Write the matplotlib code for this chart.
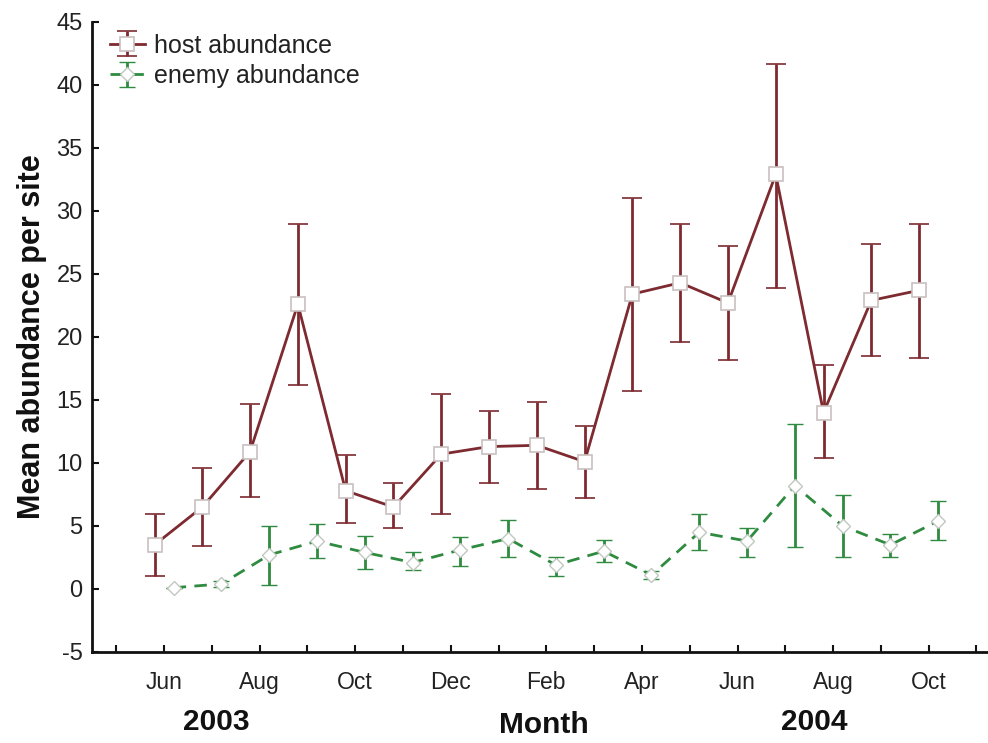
import matplotlib
matplotlib.use("Agg")
import matplotlib.pyplot as plt
import matplotlib.transforms as mtransforms
import numpy as np

plt.rcParams['font.family'] = ['Liberation Sans', 'DejaVu Sans']

# Survey months, June 2003 through October 2004
months = ["Jun", "Jul", "Aug", "Sep", "Oct", "Nov", "Dec", "Jan", "Feb",
          "Mar", "Apr", "May", "Jun", "Jul", "Aug", "Sep", "Oct"]

host_mean = [3.5, 6.5, 10.9, 22.6, 7.8, 6.5, 10.7, 11.3, 11.4,
             10.1, 23.4, 24.3, 22.7, 32.9, 14.0, 22.9, 23.7]
host_low = [1.0, 3.4, 7.3, 16.2, 5.2, 4.85, 5.95, 8.4, 7.9,
            7.2, 15.7, 19.6, 18.2, 23.9, 10.4, 18.5, 18.3]
host_high = [5.95, 9.6, 14.7, 29.0, 10.6, 8.4, 15.5, 14.1, 14.8,
             12.9, 31.0, 29.0, 27.2, 41.7, 17.8, 27.4, 29.0]

enemy_mean = [0.1, 0.4, 2.7, 3.8, 2.9, 2.1, 3.1, 4.0, 1.9,
              3.0, 1.1, 4.5, 3.8, 8.2, 5.0, 3.5, 5.4]
enemy_low = [0.1, 0.15, 0.3, 2.45, 1.6, 1.5, 1.8, 2.55, 1.05,
             2.15, 0.8, 3.1, 2.55, 3.35, 2.55, 2.55, 3.9]
enemy_high = [0.1, 0.6, 5.0, 5.15, 4.2, 2.9, 4.1, 5.5, 2.5,
              3.9, 1.45, 5.95, 4.85, 13.1, 7.45, 4.35, 7.0]

y_ticks = [-5, 0, 5, 10, 15, 20, 25, 30, 35, 40, 45]

host_color = "#7d2a30"
enemy_color = "#2e8b3f"
text_color = "#222222"

fig = plt.figure(figsize=(9.88, 7.43), dpi=100)
ax = fig.add_axes([0.0935, 0.1225, 0.919, 0.848])

idx = np.arange(len(months))
hm = np.array(host_mean)
em = np.array(enemy_mean)
host_err = [hm - np.array(host_low), np.array(host_high) - hm]
enemy_err = [em - np.array(enemy_low), np.array(enemy_high) - em]

ax.errorbar(idx - 0.2, hm, yerr=host_err, color=host_color, lw=2.0,
            elinewidth=2.0, capsize=7, capthick=2.5,
            marker="s", markersize=10.5, markerfacecolor="white",
            markeredgecolor="#c9c0c0", markeredgewidth=1.2,
            label="host abundance", zorder=3)

ax.errorbar(idx + 0.2, em, yerr=enemy_err, color=enemy_color, lw=2.0,
            ls=(0, (4.5, 3)), elinewidth=2.0, capsize=6, capthick=2.5,
            marker="D", markersize=7, markerfacecolor="white",
            markeredgecolor="#c0c8c0", markeredgewidth=1.0,
            label="enemy abundance", zorder=3)

ax.set_xlim(-1.5, 17.5)
ax.set_ylim(-5, 45)
ax.set_yticks(y_ticks)
ax.set_yticklabels([str(v) for v in y_ticks], fontsize=17, color=text_color)

ax.set_xticks(np.arange(-1, 18), minor=True)
ax.set_xticks(idx[::2])
ax.set_xticklabels(months[::2], fontsize=16.5, color=text_color)

for side in ("top", "right"):
    ax.spines[side].set_visible(False)
for side in ("left", "bottom"):
    ax.spines[side].set_linewidth(2.0)
    ax.spines[side].set_color("#111111")

ax.tick_params(axis="both", which="both", direction="in", width=1.5,
               length=5, color="#111111")
ax.tick_params(axis="x", which="major", pad=14)
ax.tick_params(axis="y", which="major", pad=7)

ax.set_ylabel("Mean abundance per site", fontsize=22, fontweight="bold",
              color="#111111", labelpad=7)

# Year and axis captions under the month labels
trans = mtransforms.blended_transform_factory(ax.transData, fig.transFigure)
ax.text(1.1, 0.028, "2003", transform=trans, ha="center", va="center",
        fontsize=21.5, fontweight="bold", color="#111111")
ax.text(7.95, 0.024, "Month", transform=trans, ha="center", va="center",
        fontsize=21.5, fontweight="bold", color="#111111")
ax.text(13.6, 0.028, "2004", transform=trans, ha="center", va="center",
        fontsize=21.5, fontweight="bold", color="#111111")

ax.legend(loc="upper left", bbox_to_anchor=(0.0, 1.009), frameon=False,
          fontsize=18, handlelength=1.4, handletextpad=0.35,
          labelspacing=0.25, borderaxespad=0.35, borderpad=0.35,
          labelcolor=text_color)

fig.savefig("out.png", dpi=100)
